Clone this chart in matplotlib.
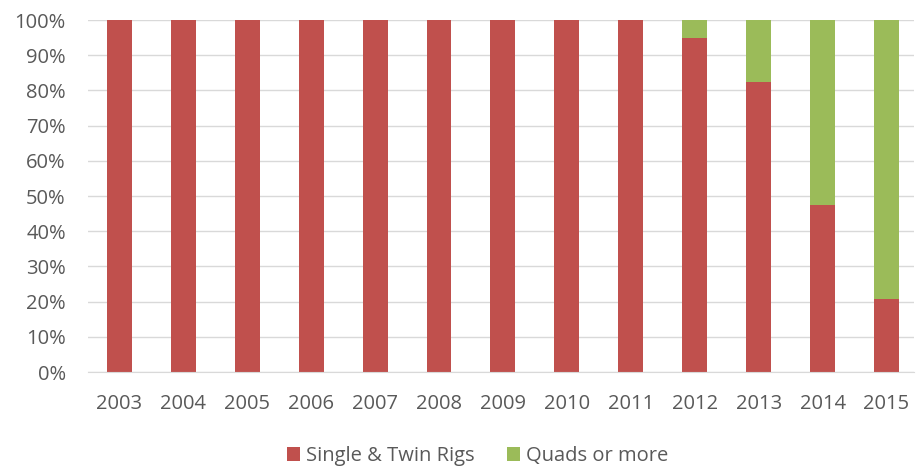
import numpy as np
import matplotlib.pyplot as plt
from matplotlib.ticker import PercentFormatter

years = ['2003', '2004', '2005', '2006', '2007', '2008', '2009',
         '2010', '2011', '2012', '2013', '2014', '2015']
single_twin = [100, 100, 100, 100, 100, 100, 100, 100, 100, 95.0, 82.4, 47.5, 20.7]
quads = [100 - v for v in single_twin]

plt.rcParams['font.family'] = ['Open Sans', 'DejaVu Sans']

fig = plt.figure(figsize=(9.16, 4.68), dpi=100)
ax = fig.add_axes([88 / 916, 1 - 372 / 468, 826 / 916, 352 / 468])

x = np.arange(len(years))
ax.bar(x, single_twin, width=0.39, color='#C0504D', label='Single & Twin Rigs', zorder=2)
ax.bar(x, quads, width=0.39, bottom=single_twin, color='#9BBB59', label='Quads or more', zorder=2)

ax.set_ylim(0, 100)
ax.set_xlim(-0.49, 12.43)
ax.set_yticks(np.arange(0, 101, 10))
ax.yaxis.set_major_formatter(PercentFormatter(decimals=0))
ax.set_xticks(x)
ax.set_xticklabels(years)
ax.grid(axis='y', color='#D9D9D9', linewidth=1, zorder=0)
ax.tick_params(axis='both', length=0, labelsize=14.5, colors='#595959')
ax.tick_params(axis='x', pad=16)
ax.tick_params(axis='y', pad=16)
for side in ['top', 'right', 'left']:
    ax.spines[side].set_visible(False)
ax.spines['bottom'].set_color('#D9D9D9')

fig.legend(loc='center', bbox_to_anchor=(0.521, 1 - 456 / 468), ncol=2,
           frameon=False, fontsize=14.5, handlelength=0.65, handleheight=0.65,
           columnspacing=1.6, handletextpad=0.3, labelcolor='#595959')

fig.savefig('out.png', dpi=100)
